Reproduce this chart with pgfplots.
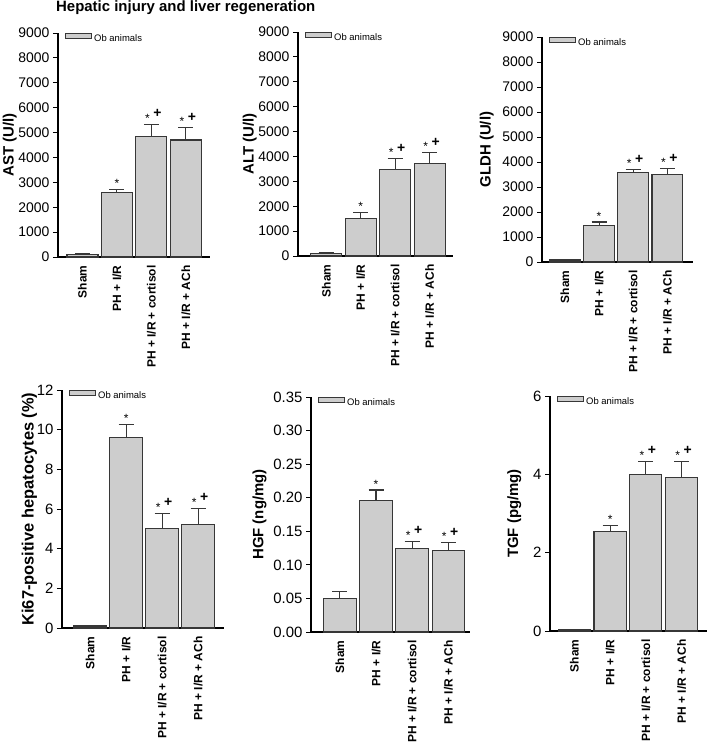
\documentclass[border=0pt]{standalone}
\usepackage{fontspec}
\setmainfont{Liberation Sans}
\usepackage{pgfplots}
\pgfplotsset{compat=1.18}
\definecolor{barfill}{RGB}{205,205,205}
\definecolor{bardraw}{RGB}{55,55,55}
\tikzset{
  sigstar/.style={font=\fontsize{12}{12}\selectfont, inner sep=0pt, anchor=base, yshift=2bp},
  sigplus/.style={font=\bfseries\fontsize{14}{14}\selectfont, inner sep=0pt, anchor=base, yshift=6.5bp},
}
\newcommand{\sigA}[2]{\node[sigstar] at (axis cs:#1,#2) {*};}
\newcommand{\sigB}[2]{\node[sigstar, xshift=-4bp] at (axis cs:#1,#2) {*};\node[sigplus, xshift=6bp] at (axis cs:#1,#2) {+};}
\pgfplotsset{
  panel/.style={
    scale only axis,
    axis x line*=bottom, axis y line*=left,
    ymin=0,
    xtick={0,1,2,3},
    xticklabels={Sham, PH + I/R, PH + I/R + cortisol, PH + I/R + ACh},
    x tick style={draw=none},
    xticklabel style={rotate=90, anchor=east, font=\bfseries\fontsize{12}{12}\selectfont},
    tick align=outside,
    major tick length=5bp,
    y tick style={line width=0.9bp, black},
    axis line style={line width=1.1bp, black},
    ylabel style={font=\bfseries\fontsize{15}{15}\selectfont},
    scaled y ticks=false,
    /pgf/number format/assume math mode=true,
    yticklabel style={font=\fontsize{14}{14}\selectfont, /pgf/number format/1000 sep={}},
    ybar, bar width=0.9,
    legend style={draw=none, fill=none, at={(0,1)}, anchor=north west, xshift=7bp, yshift=1bp,
      font=\fontsize{9.5}{9.5}\selectfont, inner sep=0pt},
    legend image code/.code={\draw[fill=barfill, draw=bardraw, line width=1bp] (0bp,-0.5bp) rectangle (26bp,5bp);},
  },
  bars/.style={fill=barfill, draw=bardraw, line width=1.1bp,
    error bars/.cd, y dir=plus, y explicit,
    error bar style={line width=1.1bp, draw=bardraw},
    error mark options={rotate=90, mark size=7.5bp, line width=1.1bp, draw=bardraw}},
}
\begin{document}
\begin{tikzpicture}
\useasboundingbox (0,0) rectangle (709bp,-748bp);
\node[anchor=west, font=\bfseries\fontsize{15}{15}\selectfont, inner sep=0pt] at (56bp,-8bp) {Hepatic injury and liver regeneration};

% AST
\begin{axis}[panel, at={(58bp,-257bp)}, anchor=south west, width=152bp, height=224bp,
  xmin=-0.71, xmax=3.70, ymax=9000, ytick={0,1000,...,9000}, ylabel={AST (U/l)}, ylabel shift=-5bp]
\addplot[bars] coordinates {(0,100) +- (0,20) (1,2600) +- (0,120) (2,4850) +- (0,490) (3,4700) +- (0,500)};
\addlegendentry{Ob animals}
\sigA{1}{2720}
\sigB{2}{5340}
\sigB{3}{5200}
\end{axis}

% ALT
\begin{axis}[panel, at={(298bp,-256bp)}, anchor=south west, width=155bp, height=224bp,
  xmin=-0.82, xmax=3.68, ymax=9000, ytick={0,1000,...,9000}, ylabel={ALT (U/l)}, ylabel shift=-5bp]
\addplot[bars] coordinates {(0,100) +- (0,30) (1,1520) +- (0,220) (2,3480) +- (0,420) (3,3700) +- (0,450)};
\addlegendentry{Ob animals}
\sigA{1}{1740}
\sigB{2}{3900}
\sigB{3}{4150}
\end{axis}

% GLDH
\begin{axis}[panel, at={(542bp,-262bp)}, anchor=south west, width=151bp, height=225bp,
  xmin=-0.67, xmax=3.75, ymax=9000, ytick={0,1000,...,9000}, ylabel={GLDH (U/l)}, ylabel shift=2bp]
\addplot[bars] coordinates {(0,80) +- (0,15) (1,1470) +- (0,130) (2,3575) +- (0,120) (3,3510) +- (0,230)};
\addlegendentry{Ob animals}
\sigA{1}{1600}
\sigB{2}{3695}
\sigB{3}{3740}
\end{axis}

% Ki67
\begin{axis}[panel, at={(62bp,-628bp)}, anchor=south west, width=162bp, height=238bp,
  xmin=-0.78, xmax=3.72, ymax=12, ytick={0,2,...,12}, ylabel={Ki67-positive hepatocytes (\%)},
  ylabel style={font=\bfseries\fontsize{16.5}{16.5}\selectfont}, ylabel shift=-7bp,
  yticklabel style={font=\fontsize{15}{15}\selectfont}]
\addplot[bars] coordinates {(0,0.1) +- (0,0.02) (1,9.6) +- (0,0.67) (2,5.03) +- (0,0.76) (3,5.2) +- (0,0.84)};
\addlegendentry{Ob animals}
\sigA{1}{10.27}
\sigB{2}{5.79}
\sigB{3}{6.04}
\end{axis}

% HGF
\begin{axis}[panel, at={(311bp,-632bp)}, anchor=south west, width=159bp, height=235bp,
  xmin=-0.8, xmax=3.6, ymax=0.35, ytick={0,0.05,...,0.35}, ylabel={HGF (ng/mg)},
  yticklabel style={font=\fontsize{15}{15}\selectfont, /pgf/number format/.cd, fixed, fixed zerofill, precision=2}]
\addplot[bars] coordinates {(0,0.0495) +- (0,0.011) (1,0.1955) +- (0,0.016) (2,0.124) +- (0,0.011) (3,0.121) +- (0,0.012)};
\addlegendentry{Ob animals}
\sigA{1}{0.211}
\sigB{2}{0.135}
\sigB{3}{0.133}
\end{axis}

% TGF
\begin{axis}[panel, at={(550bp,-631bp)}, anchor=south west, width=157bp, height=235bp,
  xmin=-0.68, xmax=3.71, ymax=6, ytick={0,2,4,6}, ylabel={TGF (pg/mg)}, ylabel shift=5bp,
  yticklabel style={font=\fontsize{15}{15}\selectfont}]
\addplot[bars] coordinates {(0,0.04) +- (0,0.01) (1,2.53) +- (0,0.17) (2,4.0) +- (0,0.33) (3,3.93) +- (0,0.4)};
\addlegendentry{Ob animals}
\sigA{1}{2.70}
\sigB{2}{4.33}
\sigB{3}{4.33}
\end{axis}
\end{tikzpicture}
\end{document}
